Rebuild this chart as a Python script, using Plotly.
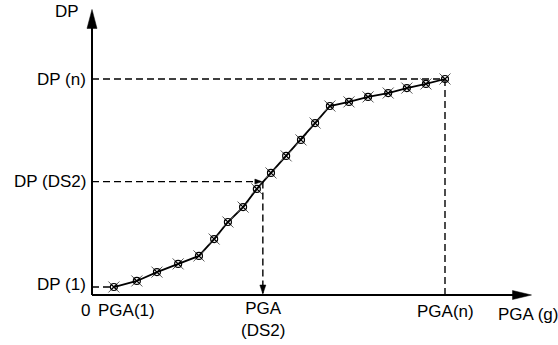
import plotly.graph_objects as go

# Data (normalized: PGA(n)=1, DP(n)=1)
pga = [0.062, 0.127, 0.184, 0.244, 0.303, 0.346, 0.385, 0.428, 0.467, 0.507,
       0.550, 0.592, 0.632, 0.674, 0.728, 0.782, 0.839, 0.892, 0.946, 1.0]
dp = [0.037, 0.065, 0.106, 0.144, 0.181, 0.259, 0.338, 0.407, 0.491, 0.565,
      0.644, 0.718, 0.796, 0.875, 0.894, 0.917, 0.935, 0.958, 0.977, 1.0]
pga_ds2 = 0.484
dp_ds2 = 0.525
x_max = 1.245  # end of x axis arrow
y_max = 1.322  # end of y axis arrow

W, H = 558, 345
X0, Y0, SX, SY = 92, 295, 353, 216  # origin pixel & scale
xr = [-X0 / SX, (W - X0) / SX]
yr = [(Y0 - H) / SY, Y0 / SY]

def dx(px):
    return px / SX

def dy(py):
    return py / SY

fig = go.Figure()
fig.add_trace(go.Scatter(x=pga, y=dp, mode="lines", line=dict(color="black", width=1.8),
                         hoverinfo="skip", showlegend=False))
fig.add_trace(go.Scatter(x=pga, y=dp, mode="markers",
                         marker=dict(symbol="x-thin-open", size=11, color="#555",
                                     line=dict(color="#555", width=1)),
                         showlegend=False))
fig.add_trace(go.Scatter(x=pga, y=dp, mode="markers",
                         marker=dict(symbol="circle-x-open", size=7, color="black",
                                     line=dict(color="black", width=1.2)),
                         showlegend=False))

shapes = []
# axes
shapes.append(dict(type="line", x0=0, y0=0, x1=x_max - dx(18), y1=0, line=dict(color="black", width=2)))
shapes.append(dict(type="line", x0=0, y0=0, x1=0, y1=y_max - dy(18), line=dict(color="black", width=2)))
# arrowheads
shapes.append(dict(type="path", path=f"M {x_max},0 L {x_max - dx(19)},{dy(4.5)} L {x_max - dx(19)},{-dy(4.5)} Z",
                   fillcolor="black", line=dict(color="black", width=0.5)))
shapes.append(dict(type="path", path=f"M 0,{y_max} L {dx(5)},{y_max - dy(19)} L {-dx(5)},{y_max - dy(19)} Z",
                   fillcolor="black", line=dict(color="black", width=0.5)))
dash = dict(color="black", width=1.4, dash="7px,4px")
# DP(n)
shapes.append(dict(type="line", x0=0, y0=dp[-1], x1=pga[-1], y1=dp[-1], line=dash))
shapes.append(dict(type="line", x0=pga[-1], y0=dp[-1], x1=pga[-1], y1=0, line=dash))
# DP(1)
shapes.append(dict(type="line", x0=0, y0=dp[0], x1=pga[0], y1=dp[0], line=dash))
# DS2
shapes.append(dict(type="line", x0=0, y0=dp_ds2, x1=pga_ds2 - dx(2), y1=dp_ds2, line=dash))
shapes.append(dict(type="line", x0=pga_ds2, y0=dp_ds2, x1=pga_ds2, y1=dy(2), line=dash))
shapes.append(dict(type="path",
                   path=f"M {pga_ds2 - dx(1)},{dp_ds2} L {pga_ds2 - dx(8)},{dp_ds2 + dy(2.5)} L {pga_ds2 - dx(8)},{dp_ds2 - dy(2.5)} Z",
                   fillcolor="black", line=dict(color="black", width=0.5)))
shapes.append(dict(type="path",
                   path=f"M {pga_ds2},{dy(1)} L {pga_ds2 - dx(3)},{dy(10)} L {pga_ds2 + dx(3)},{dy(10)} Z",
                   fillcolor="black", line=dict(color="black", width=0.5)))

font = dict(family="Liberation Sans, Arial", size=17, color="black")
ann = []
def label(text, x, y, xanchor="center", yanchor="middle"):
    ann.append(dict(text=text, x=x, y=y, xref="x", yref="y", showarrow=False,
                    xanchor=xanchor, yanchor=yanchor, font=font))

label("DP", -dx(11), y_max - dy(2), xanchor="right")
label("DP (n)", -dx(4), dp[-1], xanchor="right")
label("DP (DS2)", -dx(4), dp_ds2, xanchor="right")
label("DP (1)", -dx(4), dp[0] + dy(3), xanchor="right")
label("0", -dx(7), -dy(15))
label("PGA(1)", pga[0] + dx(13), -dy(15))
label("PGA<br>(DS2)", pga_ds2, -dy(24))
label("PGA(n)", pga[-1], -dy(16))
label("PGA (g)", x_max - dx(3), -dy(19))

fig.update_layout(
    width=W, height=H, margin=dict(l=0, r=0, t=0, b=0),
    paper_bgcolor="white", plot_bgcolor="white",
    xaxis=dict(range=xr, visible=False, fixedrange=True),
    yaxis=dict(range=yr, visible=False, fixedrange=True),
    shapes=shapes, annotations=ann, showlegend=False,
)
fig.write_html("out.html")
